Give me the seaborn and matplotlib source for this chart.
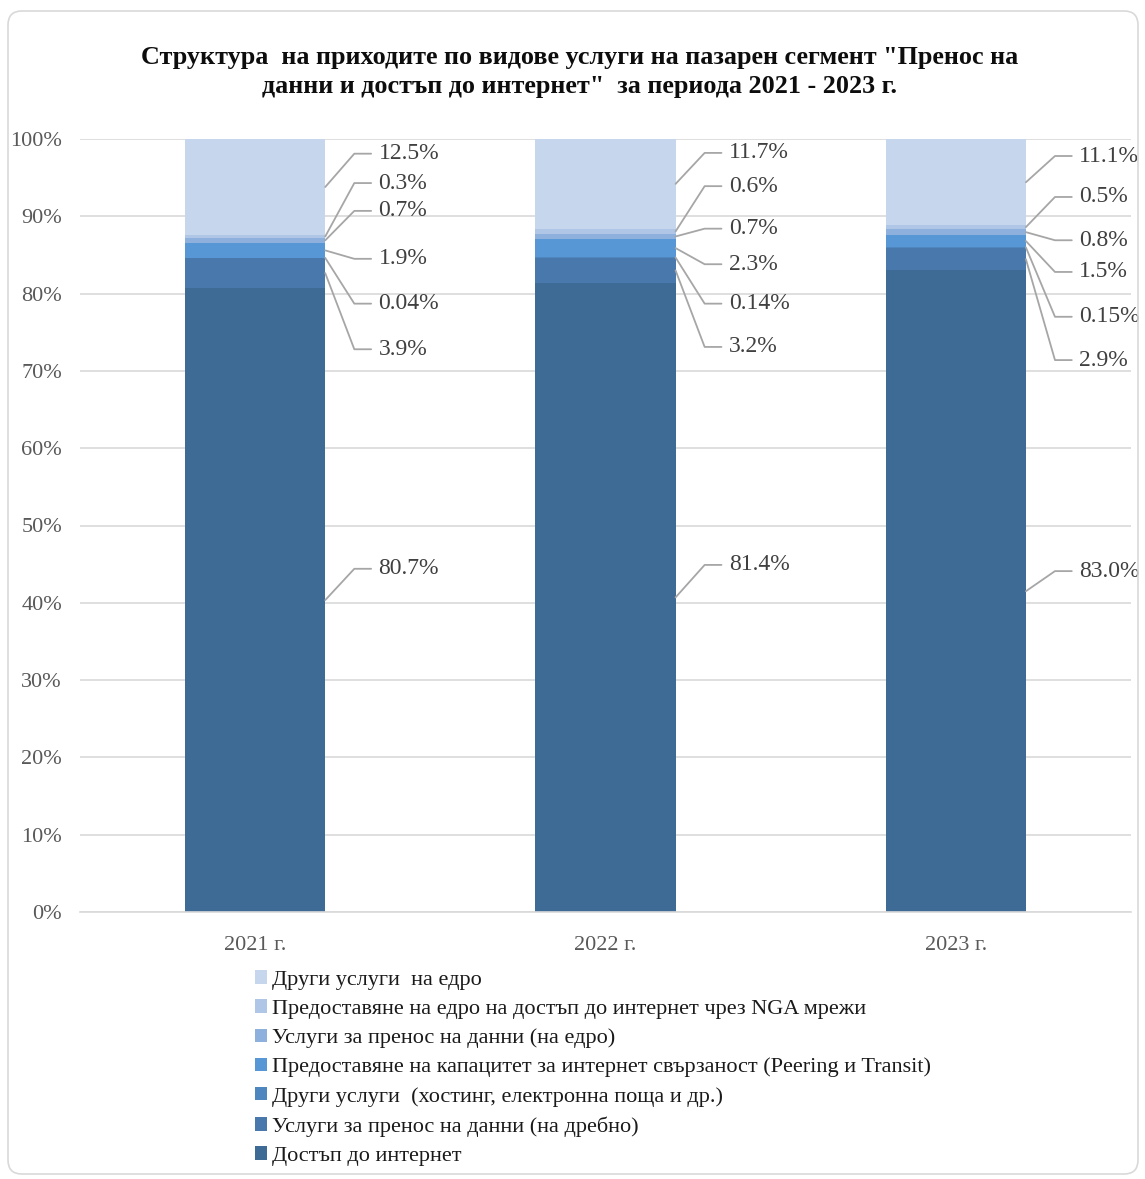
import matplotlib
matplotlib.use("Agg")
import matplotlib.pyplot as plt
from matplotlib.patches import FancyBboxPatch
import pandas as pd
import seaborn as sns

sns.set_theme(style="white")
plt.rcParams["font.family"] = ["Liberation Serif", "DejaVu Serif"]

# data (percent of segment revenue), stacking order bottom -> top
years = ["2021 г.", "2022 г.", "2023 г."]
internet_access = [80.7, 81.4, 83.0]
retail_data = [3.9, 3.2, 2.9]
other_services = [0.04, 0.14, 0.15]
peering_transit = [1.9, 2.3, 1.5]
wholesale_data = [0.7, 0.7, 0.8]
wholesale_nga = [0.3, 0.6, 0.5]
other_wholesale = [12.5, 11.7, 11.1]

series_names = [
    "Достъп до интернет",
    "Услуги за пренос на данни (на дребно)",
    "Други услуги  (хостинг, електронна поща и др.)",
    "Предоставяне на капацитет за интернет свързаност (Peering и Transit)",
    "Услуги за пренос на данни (на едро)",
    "Предоставяне на едро на достъп до интернет чрез NGA мрежи",
    "Други услуги  на едро",
]
series_values = [internet_access, retail_data, other_services, peering_transit,
                 wholesale_data, wholesale_nga, other_wholesale]
colors = ["#3E6A96", "#4878AC", "#4E86C0", "#5797D5", "#8DB0DD", "#AFC6E6", "#C6D6EC"]

# label text heights (percent axis units), bottom -> top, one list per year
label_y = [
    [44.4, 72.8, 78.7, 84.5, 90.7, 94.3, 98.1],
    [44.9, 73.1, 78.7, 83.8, 88.4, 93.9, 98.2],
    [44.1, 71.4, 77.0, 82.8, 86.9, 92.5, 97.8],
]

df = pd.DataFrame({name: vals for name, vals in zip(series_names, series_values)})
df["year"] = years
cum = df[series_names].cumsum(axis=1)

fig = plt.figure(figsize=(11.45, 11.79), dpi=100)
fig.patches.append(FancyBboxPatch((8 / 1145, 5 / 1179), 1130 / 1145, 1163 / 1179,
                                  boxstyle="round,pad=0,rounding_size=0.012",
                                  transform=fig.transFigure, fill=False,
                                  edgecolor="#D9D9D9", linewidth=1.2))
ax = fig.add_axes([80 / 1145, 1 - 912 / 1179, 1051 / 1145, 773 / 1179])

# stacked bars: draw cumulative totals from the top layer down
for i in reversed(range(len(series_names))):
    sns.barplot(x=df["year"], y=cum[series_names[i]], color=colors[i], width=0.4,
                saturation=1, label=series_names[i], ax=ax, linewidth=0)

ax.set_ylim(0, 100)
ax.set_xlim(-0.5, 2.5)
ax.set_yticks(range(0, 101, 10))
ax.set_yticklabels([f"{t}%" for t in range(0, 101, 10)])
ax.yaxis.grid(True, color="#D9D9D9", linewidth=1.2)
ax.set_axisbelow(True)
for s in ["top", "right", "left"]:
    ax.spines[s].set_visible(False)
ax.spines["bottom"].set_color("#D9D9D9")
ax.spines["bottom"].set_linewidth(1.2)
ax.tick_params(axis="both", length=0, labelsize=16, colors="#595959")
ax.tick_params(axis="y", pad=13)
ax.tick_params(axis="x", pad=17)
ax.set_xlabel("")
ax.set_ylabel("")
if ax.get_legend():
    ax.get_legend().remove()

# data labels with leader lines
for j in range(len(years)):
    edge = j + 0.2
    base = 0
    for i, vals in enumerate(series_values):
        v = vals[j]
        mid = base + v / 2
        base += v
        ty = label_y[j][i]
        ax.plot([edge, edge + 0.083, edge + 0.131], [mid, ty, ty], color="#A6A6A6",
                linewidth=1.3, clip_on=False)
        txt = f"{v:.2f}%" if round(v, 1) != v else f"{v:.1f}%"
        ax.text(edge + 0.152, ty, txt, va="center", ha="left", fontsize=17,
                color="#404040", clip_on=False)

fig.text(0.506, 1 - 72 / 1179,
         "Структура  на приходите по видове услуги на пазарен сегмент \"Пренос на\n"
         "данни и достъп до интернет\"  за периода 2021 - 2023 г.",
         ha="center", va="center", fontsize=18.8, fontweight="bold", linespacing=1.38,
         color="#0d0d0d")

handles, labels = ax.get_legend_handles_labels()
fig.legend(handles, labels, loc="upper left", bbox_to_anchor=(244 / 1145, 1 - 959 / 1179),
           frameon=False, fontsize=16, handlelength=0.55, handleheight=0.55,
           handletextpad=0.2, labelspacing=0.43, borderpad=0, labelcolor="#1a1a1a")

fig.savefig("out.png", dpi=100)
